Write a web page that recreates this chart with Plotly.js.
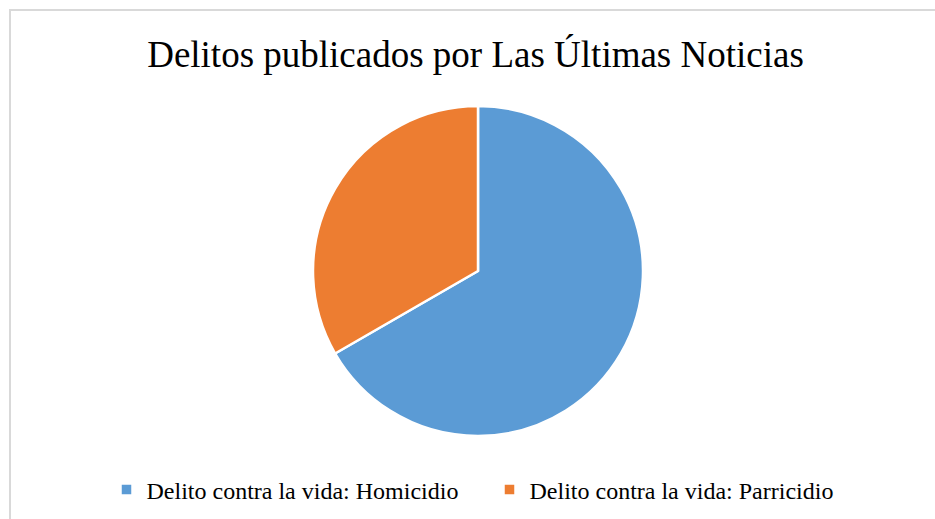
<!DOCTYPE html>
<html>
<head>
<meta charset="utf-8">
<script src="https://cdn.plot.ly/plotly-3.0.1.min.js"></script>
<style>
html,body{margin:0;padding:0;overflow:hidden;background:#fff;}
#frame{position:absolute;left:9px;top:9px;width:1000px;height:1000px;border:2px solid #d9d9d9;box-sizing:border-box;}
#chart{position:absolute;left:0;top:0;width:935px;height:519px;}
</style>
</head>
<body>
<div id="frame"></div>
<div id="chart"></div>
<script>
const chartTitle = "Delitos publicados por Las Últimas Noticias";
const categories = ["Delito contra la vida: Homicidio", "Delito contra la vida: Parricidio"];
const values = [2, 1];
const colors = ["#5B9BD5", "#ED7D31"];

const W = 935, H = 519;
const cx = 478, cy = 271, r = 165;
const FONT = "Liberation Serif";

const data = [{
  type: "pie",
  labels: categories,
  values: values,
  sort: false,
  direction: "clockwise",
  rotation: 0,
  textinfo: "none",
  hoverinfo: "label+value+percent",
  marker: {colors: colors, line: {color: "#ffffff", width: 2.5}},
  domain: {x: [(cx - r) / W, (cx + r) / W], y: [(H - cy - r) / H, (H - cy + r) / H]}
}];

const layout = {
  width: W, height: H,
  margin: {l: 0, r: 0, t: 0, b: 0},
  paper_bgcolor: "rgba(0,0,0,0)",
  plot_bgcolor: "rgba(0,0,0,0)",
  font: {family: FONT, color: "#000"},
  title: {
    text: chartTitle,
    font: {family: FONT, size: 37, color: "#000"},
    x: 475.5 / W, xanchor: "center", xref: "paper",
    y: 1 - 54 / H, yanchor: "middle", yref: "container"
  },
  showlegend: true,
  legend: {
    orientation: "h",
    x: 489.5 / W, xanchor: "center",
    y: 1 - 490 / H, yanchor: "middle",
    font: {family: FONT, size: 24, color: "#000"},
    itemwidth: 30,
    entrywidth: 338,
    entrywidthmode: "pixels",
    bgcolor: "rgba(0,0,0,0)"
  }
};

Plotly.newPlot("chart", data, layout, {displayModeBar: false, staticPlot: true});
</script>
</body>
</html>
